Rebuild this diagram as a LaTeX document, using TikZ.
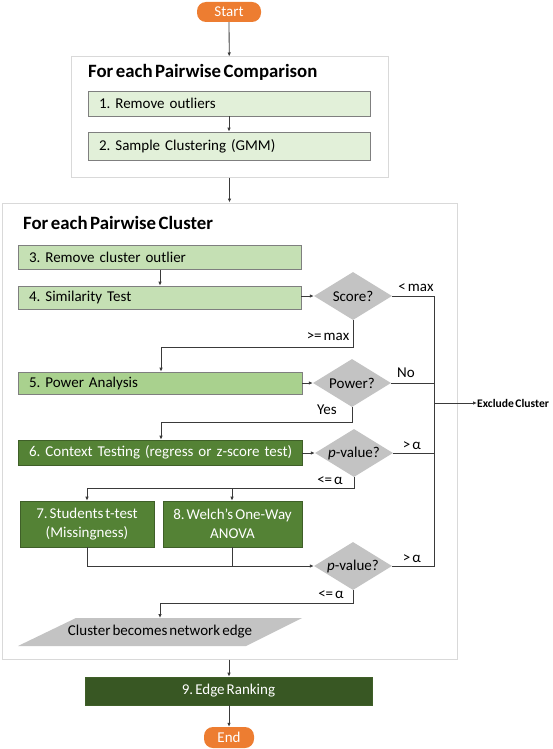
\documentclass[tikz,border=0pt]{standalone}
\usepackage{fontspec}
\setmainfont{Carlito}[WordSpace=0.6]
\usetikzlibrary{arrows.meta,shapes.geometric}
\definecolor{orng}{HTML}{ED7D31}
\definecolor{gA}{HTML}{E2F0D9}
\definecolor{gB}{HTML}{C5E0B4}
\definecolor{gC}{HTML}{A9D18E}
\definecolor{gD}{HTML}{548235}
\definecolor{gE}{HTML}{385723}
\definecolor{dia}{HTML}{C3C3C3}
\definecolor{frame}{HTML}{D9D9D9}
\definecolor{edgegray}{HTML}{7F7F7F}
\definecolor{darkedge}{HTML}{3F5F28}
\definecolor{linec}{HTML}{3A3A3A}
\tikzset{
  base/.style={font=\fontsize{15}{19}\selectfont},
  term/.style={base, rounded corners=9pt, fill=orng, text=white, inner sep=0pt},
  lbox/.style={base, rectangle, draw=edgegray, line width=0.6pt, inner xsep=11pt, inner ysep=0pt, align=left},
  cbox/.style={base, rectangle, draw=darkedge, line width=0.6pt, inner sep=0pt, align=center},
  frm/.style={rectangle, draw=frame, line width=1pt, fill=white, inner sep=0pt},
  ttl/.style={font=\bfseries\fontsize{18.8}{20}\selectfont, anchor=west, inner sep=0pt},
  dec/.style={base, diamond, fill=dia, aspect=1.625, inner sep=0pt, minimum width=78pt, minimum height=48pt},
  lbl/.style={base, inner sep=0pt},
  conn/.style={draw=linec, line width=0.8pt},
  arr/.style={conn, -{Latex[length=4pt,width=3.5pt]}}
}
\begin{document}
\frenchspacing
\begin{tikzpicture}[x=1pt,y=-1pt]
\useasboundingbox (0,0) rectangle (552,749);
% frames
\node[frm, minimum width=317pt, minimum height=120pt] (outerA) at (229.5,117) {};
\node[frm, minimum width=455pt, minimum height=456pt] (outerB) at (229.5,431) {};
\node[ttl] (titleA) at (88,72) {For each Pairwise Comparison};
\node[ttl] (titleB) at (23,223) {For each Pairwise Cluster};
% terminals
\node[term, minimum width=64pt, minimum height=20pt] (start) at (229,12) {Start};
\node[term, minimum width=50pt, minimum height=21pt] (end) at (229,737.5) {End};
% boxes
\node[lbox, fill=gA, text width=260pt, minimum height=25pt] (b1) at (229,103.5) {1. Remove outliers};
\node[lbox, fill=gA, text width=260pt, minimum height=28pt] (b2) at (229,146) {2. Sample Clustering (GMM)};
\node[lbox, fill=gB, text width=261pt, minimum height=24pt] (b3) at (159.5,257.5) {3. Remove cluster outlier};
\node[lbox, fill=gB, text width=261pt, minimum height=23pt] (b4) at (159.5,297.5) {4. Similarity Test};
\node[lbox, fill=gC, text width=262pt, minimum height=22pt] (b5) at (160,383) {5. Power Analysis};
\node[lbox, fill=gD, draw=darkedge, text=white, text width=262pt, minimum height=25pt] (b6) at (160,452.5) {\mbox{6. Context Testing (regress or z-score test)}};
\node[cbox, fill=gD, text=white, minimum width=134pt, minimum height=46pt] (b7) at (87,524) {7. Students t-test\\(Missingness)};
\node[cbox, fill=gD, text=white, minimum width=139pt, minimum height=46pt] (b8) at (232.5,524) {8. Welch’s One-Way\\ANOVA};
\node[cbox, fill=gE, text=white, minimum width=287pt, minimum height=28pt] (b9) at (228.5,691) {9. Edge Ranking};
% decisions
\node[dec] (score) at (353,296) {Score?};
\node[dec] (power) at (352,383) {Power?};
\node[dec] (pv1) at (354,453) {\textit{p}-value?};
\node[dec] (pv2) at (353,566) {\textit{p}-value?};
% output parallelogram
\fill[dia] (76,618) -- (302,618) -- (246,646) -- (18,646) -- cycle;
\node[lbl] (netedge) at (160,632) {Cluster becomes network edge};
\coordinate (paratop) at (160,618);
% exclude
\node[font=\bfseries\fontsize{11.6}{13}\selectfont, anchor=west, inner sep=0pt] (excl) at (477,403) {Exclude Cluster};
\coordinate (rt) at (434,296);
\coordinate (rb) at (434,566);
% connectors
\draw[arr] (start) -- (outerA);
\draw[arr] (b1) -- (b2);
\draw[arr] (outerA) -- (outerB);
\draw[arr] (b3.south -| 160,0) -- (b4.north -| 160,0);
\draw[arr] (b4.east |- score) -- (score.west);
\draw[conn] (score.east) -- (rt) -- (rb) -- (pv2.east);
\draw[conn] (power.east) -- (power.east -| rt);
\draw[conn] (pv1.east) -- (pv1.east -| rt);
\draw[arr] (rt |- excl) -- (excl.west);
\draw[arr] (score.south) -- (353,347) -- (161,347) -- (b5.north -| 161,0);
\draw[arr] (b5.east) -- (power.west);
\draw[arr] (power.south) -- (352,422) -- (161,422) -- (b6.north -| 161,0);
\draw[arr] (b6.east |- pv1) -- (pv1.west);
\draw[arr] (pv1.south) -- (354,488) -- (87,488) -- (b7.north -| 87,0);
\draw[arr] (232,488) -- (b8.north -| 232,0);
\draw[arr] (b7.south -| 87,0) -- (87,566) -- (pv2.west);
\draw[conn] (b8.south -| 232,0) -- (232,566);
\draw[arr] (pv2.south) -- (353,603) -- (160,603) -- (paratop);
\draw[arr] (outerB.south -| 229,0) -- (b9.north -| 229,0);
\draw[arr] (b9.south -| 229,0) -- (end.north -| 229,0);
% labels
\node[lbl] (l1) at (416,288) {< max};
\node[lbl] (l2) at (328,337) {>= max};
\node[lbl] (l3) at (406,373) {No};
\node[lbl] (l4) at (327,410) {Yes};
\node[lbl] (l5) at (412,446) {> α};
\node[lbl] (l6) at (330,481) {<= α};
\node[lbl] (l7) at (412,559) {> α};
\node[lbl] (l8) at (331,595) {<= α};
\end{tikzpicture}
\end{document}
